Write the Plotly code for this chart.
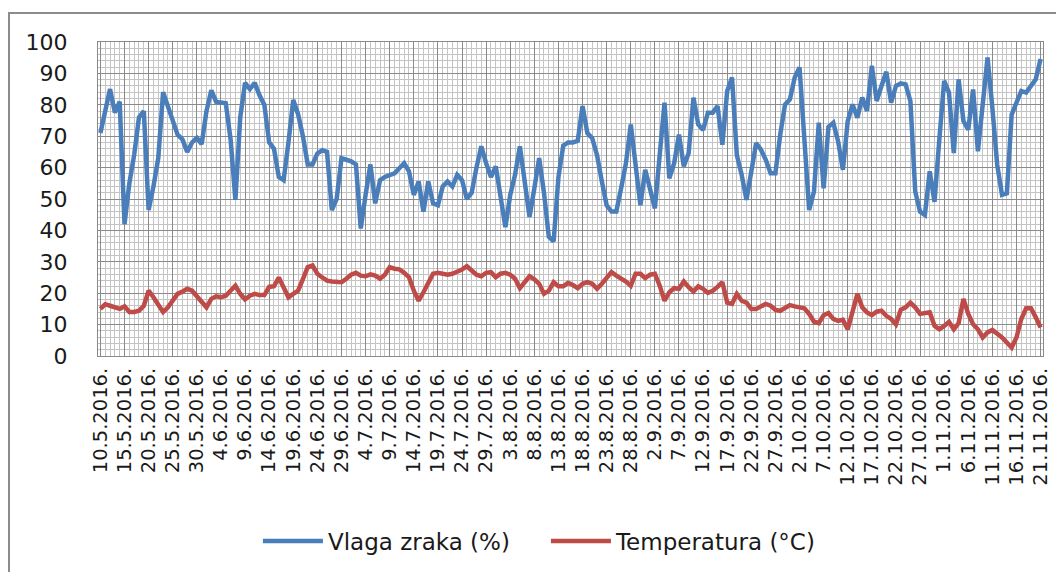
import plotly.graph_objects as go

tick_labels = ["10.5.2016.", "15.5.2016.", "20.5.2016.", "25.5.2016.", "30.5.2016.",
               "4.6.2016.", "9.6.2016.", "14.6.2016.", "19.6.2016.", "24.6.2016.",
               "29.6.2016.", "4.7.2016.", "9.7.2016.", "14.7.2016.", "19.7.2016.",
               "24.7.2016.", "29.7.2016.", "3.8.2016.", "8.8.2016.", "13.8.2016.",
               "18.8.2016.", "23.8.2016.", "28.8.2016.", "2.9.2016.", "7.9.2016.",
               "12.9.2016.", "17.9.2016.", "22.9.2016.", "27.9.2016.", "2.10.2016.",
               "7.10.2016.", "12.10.2016.", "17.10.2016.", "22.10.2016.", "27.10.2016.",
               "1.11.2016.", "6.11.2016.", "11.11.2016.", "16.11.2016.", "21.11.2016."]

vlaga = [71, 78, 85, 77.5, 81, 42, 55, 64, 76, 78,
         46.5, 54, 63, 84, 79.5, 75, 70.5, 69, 65, 68,
         69.5, 67.5, 78, 84.6, 81, 80.7, 80.5, 69, 49.7, 76,
         87, 85, 87, 83, 80, 68, 66, 57, 56, 68,
         81.5, 77, 70, 61, 61, 64.5, 65.5, 65, 46.5, 50,
         63, 62.5, 62, 61, 40.6, 51.3, 61, 48.6, 56, 57,
         57.7, 58.2, 59.8, 61.4, 58.8, 51.3, 55.6, 46, 55.6, 48.6,
         48, 54, 55.6, 54, 57.7, 56, 50, 52, 60, 66.8,
         61.4, 57, 60.4, 51.3, 41, 51.3, 57.7, 66.8, 54.5, 44.3,
         53.4, 63, 52, 38, 36.5, 57, 67, 68, 68, 68.5,
         79.6, 71, 69.4, 64, 55.6, 48, 46, 46, 53.4, 61.4,
         73.7, 61, 48, 59.3, 52.4, 47, 64, 80.7, 56.6, 61.4,
         70.5, 60.4, 64.6, 82.3, 73.7, 72, 77.5, 77.5, 79.6, 67.3,
         84.4, 88.7, 64, 57.7, 49.7, 59.8, 67.8, 65.7, 62.5, 58.2,
         58.2, 70.5, 80.1, 81.7, 88.7, 91.9, 70.5, 46.5, 52.4, 74.3,
         53.4, 73, 74.3, 68.4, 59.3, 74.8, 80.1, 75.9, 82.3, 78,
         92.4, 81.2, 86, 90.5, 80.7, 86, 86.8, 86.5, 81.2, 52.4,
         46, 44.9, 58.8, 49.1, 69, 87.6, 83.9, 64.6, 88.1, 74.8,
         72.1, 84.9, 65.2, 80.7, 95.1, 79, 60.9, 51.3, 51.8, 76.9,
         80.7, 84.4, 83.9, 86, 88.1, 94.6]

temperatura = [15, 16.5, 16, 15.5, 15, 15.8, 14, 14, 14.4, 16,
               20.8, 18.7, 16.6, 14, 15.5, 17.6, 19.8, 20.5, 21.4, 20.8,
               19.2, 17.6, 15.5, 18.2, 19, 18.7, 19.2, 20.8, 22.4, 19.8,
               18, 19.2, 19.8, 19.4, 19.4, 22, 22.2, 25, 21.4, 18.7,
               19.8, 20.8, 24.5, 28.3, 28.8, 26.2, 25, 24, 23.7, 23.5,
               23.5, 24.6, 25.9, 26.5, 25.6, 25.4, 26, 25.6, 24.6, 25.9,
               28.3, 27.8, 27.6, 26.5, 25.1, 20.8, 17.6, 20.3, 23.5, 26.2,
               26.5, 26.2, 25.9, 26.2, 26.9, 27.5, 28.6, 27.2, 25.9, 25.4,
               26.5, 26.7, 25.1, 26.2, 26.5, 25.9, 24.6, 21.6, 23.5, 25.4,
               24.4, 23, 19.8, 20.8, 23.5, 22.2, 22.2, 23.3, 22.6, 21.6,
               23, 23.5, 23, 21.4, 23, 25.1, 26.7, 25.6, 24.8, 23.7,
               22.4, 26.2, 26.2, 24.8, 25.9, 26.2, 22.4, 17.6, 20.3, 21.6,
               21.4, 23.7, 21.9, 20.5, 22.2, 21.4, 20.1, 20.8, 22, 23.5,
               17, 16.6, 19.8, 17.6, 17, 15, 15, 15.8, 16.6, 16,
               14.7, 14.4, 15.5, 16.2, 15.8, 15.5, 15.2, 13.4, 10.9, 10.5,
               13, 13.7, 11.8, 11.2, 11.5, 8.5, 13.9, 19.8, 15.5, 13.9,
               13, 14.1, 14.4, 12.8, 11.8, 10.1, 14.7, 15.5, 17, 15.5,
               13.4, 13.7, 13.9, 9.6, 8.5, 9.6, 10.9, 8.5, 10.5, 18.2,
               13.4, 10.1, 8.5, 5.9, 7.5, 8.3, 7.3, 5.9, 4.3, 2.7,
               5.9, 11.8, 15.2, 15.2, 12.3, 9.1]

days = list(range(len(vlaga)))
tick_pos = days[::5]

FONT = "'DejaVu Sans', sans-serif"
MAJOR = "#8a8a8a"
MINOR = "#c4c4c4"

W, H = 1056, 564
L, R, T, B = 90, 21, 34, 216
PW, PH = W - L - R, H - T - B

fig = go.Figure()
fig.add_trace(go.Scatter(x=days, y=vlaga, mode="lines", name="Vlaga zraka (%)",
                         line=dict(color="#4A7EBB", width=4.5)))
fig.add_trace(go.Scatter(x=days, y=temperatura, mode="lines", name="Temperatura (°C)",
                         line=dict(color="#BE4B48", width=4.5)))

fig.update_layout(
    width=W, height=H,
    margin=dict(l=L, r=R, t=T, b=B, autoexpand=False),
    paper_bgcolor="white", plot_bgcolor="white",
    font=dict(family=FONT, size=20, color="#1a1a1a"),
    showlegend=True,
    legend=dict(orientation="h", x=0.474, xanchor="center", y=-0.589, yanchor="middle",
                font=dict(size=23), itemwidth=60, entrywidth=213, entrywidthmode="pixels"),
    xaxis=dict(range=[-0.5, len(vlaga) - 0.5], tickmode="array", tickvals=tick_pos,
               ticktext=tick_labels, tickangle=-90, showgrid=True, gridcolor=MAJOR,
               gridwidth=1, zeroline=False, showline=True, linecolor=MAJOR, mirror=True,
               ticks="", ticklabelstandoff=3, tickfont=dict(size=19.5),
               minor=dict(tick0=0, dtick=1, showgrid=True, gridcolor=MINOR, gridwidth=1)),
    yaxis=dict(range=[0, 100], tick0=0, dtick=10, showgrid=True, gridcolor=MAJOR,
               gridwidth=1, zeroline=False, showline=True, linecolor=MAJOR, mirror=True,
               ticks="", ticklabelstandoff=25, tickfont=dict(size=22),
               minor=dict(tick0=0, dtick=2, showgrid=True, gridcolor=MINOR, gridwidth=1)),
    shapes=[dict(type="rect", xref="paper", yref="paper",
                 x0=(1 - L) / PW, x1=(W + 20 - L) / PW,
                 y0=-(H + 20 - T - PH) / PH, y1=(T + PH - 5) / PH,
                 line=dict(color="#8c8c8c", width=2), fillcolor="rgba(0,0,0,0)",
                 layer="below")],
)

fig.write_html("out.html")
